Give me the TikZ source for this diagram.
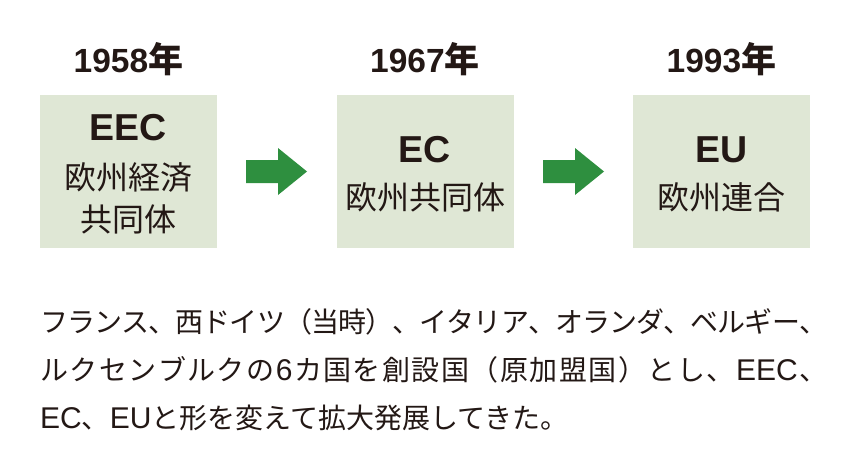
\documentclass[tikz,border=0pt]{standalone}
\usepackage{fontspec}
\setmainfont{Noto Sans CJK JP}
\newfontfamily\lat{Liberation Sans}
\ExplSyntaxOn
\cs_new:Npn \myjust #1 { \tl_map_inline:nn {#1} { {##1} \hskip 0pt plus 1fil minus 1.2pt } \unskip }
\ExplSyntaxOff
\definecolor{boxfill}{HTML}{DFE7D5}
\definecolor{arrowgreen}{HTML}{2E8F3F}
\definecolor{ink}{HTML}{231815}
\tikzset{
  box/.style={fill=boxfill, minimum width=177pt, minimum height=153pt, inner sep=0pt, draw=none},
  yearlab/.style={inner sep=0pt, anchor=base, text=ink},
  titlelab/.style={inner sep=0pt, anchor=base, text=ink, font=\lat\bfseries\fontsize{37.5}{40}\selectfont},
  cjkbox/.style={inner sep=0pt, text=ink, font=\fontsize{32}{32}\selectfont, text height=28.2pt, text depth=3.8pt},
  bodyline/.style={inner sep=0pt, anchor=west, text=ink, font=\fontsize{28}{28}\selectfont, text height=24.6pt, text depth=3.4pt},
  blockarrow/.style={fill=arrowgreen, draw=none}
}
\newcommand\yr[1]{{\lat\bfseries\fontsize{33.5}{33}\selectfont #1}{\bfseries\fontsize{35}{35}\selectfont 年}}
\newcommand\bl[1]{{\lat\fontsize{30}{30}\selectfont #1}}
\begin{document}
\begin{tikzpicture}[x=1pt,y=-1pt]
\useasboundingbox (0,0) rectangle (856,468);
% boxes
\node[box] (b1) at (128.5,171.5) {};
\node[box] (b2) at (425,171.5) {};
\node[box] (b3) at (721.5,171.5) {};
% years
\node[yearlab] (y1) at (128.5,73) {\yr{1958}};
\node[yearlab] (y2) at (425,73) {\yr{1967}};
\node[yearlab] (y3) at (721.5,73) {\yr{1993}};
% box texts
\node[titlelab] (t1) at (128.5,140) {EEC};
\node[cjkbox] (j1a) at (128.5,177) {欧州経済};
\node[cjkbox] (j1b) at (128.5,219.5) {共同体};
\node[titlelab] (t2) at (425,162) {EC};
\node[cjkbox] (j2) at (425,197.5) {欧州共同体};
\node[titlelab] (t3) at (721.5,162) {EU};
\node[cjkbox] (j3) at (721.5,197.5) {欧州連合};
% arrows
\fill[blockarrow] (246,160) -- (278,160) -- (278,148) -- (307,171.5) -- (278,195) -- (278,183) -- (246,183) -- cycle;
\fill[blockarrow] (543,160) -- (575,160) -- (575,148) -- (604,171.5) -- (575,195) -- (575,183) -- (543,183) -- cycle;
% body text
\node[bodyline] (l1) at (40,322) {\hbox to 787pt{\myjust{フランス、西ドイツ（当時）、イタリア、オランダ、ベルギー、}}};
\node[bodyline] (l2) at (40,370) {\hbox to 787pt{\myjust{ルクセンブルクの{\bl{6}}カ国を創設国（原加盟国）とし、{\bl{EEC}}、}}};
\node[bodyline] (l3) at (40,418) {\bl{EC}、\bl{EU}と形を変えて拡大発展してきた。};
\end{tikzpicture}
\end{document}
